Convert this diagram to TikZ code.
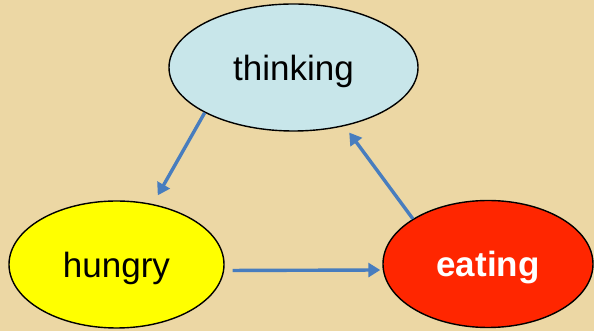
\documentclass[tikz,border=0pt]{standalone}
\usepackage{fontspec}
\setmainfont{Liberation Sans}
\usetikzlibrary{shapes.geometric,arrows.meta}
\definecolor{parch}{RGB}{236,215,164}
\definecolor{thinkfill}{RGB}{200,230,234}
\definecolor{hungfill}{RGB}{255,255,0}
\definecolor{eatfill}{RGB}{255,38,0}
\definecolor{arrowblue}{RGB}{72,125,190}
\tikzset{
  state/.style={ellipse, draw=black, line width=1.4pt, inner sep=0pt,
    font=\fontsize{35}{42}\selectfont, minimum height=127pt,
    text height=26pt, text depth=0pt},
  arr/.style={draw=arrowblue, line width=3.4pt,
    -{Triangle[length=12pt,width=14pt]}}
}
\begin{document}
\begin{tikzpicture}[x=1pt,y=1pt]
\fill[parch] (0,0) rectangle (594,331);
\useasboundingbox (0,0) rectangle (594,331);
\node[state, fill=thinkfill, minimum width=249pt] (thinking) at (293.5,263.5) {thinking};
\node[state, fill=hungfill, minimum width=215pt] (hungry) at (116.5,66.5) {hungry};
\node[state, fill=eatfill, minimum width=210pt, text=white, font=\fontsize{35}{42}\selectfont\bfseries] (eating) at (488,67) {eating};
\draw[arr, shorten >=10pt] (thinking.207) -- (hungry.59);
\draw[arr, shorten <=8pt, shorten >=2pt] ([yshift=-6pt]hungry.east) -- ([yshift=-6pt]eating.west);
\draw[arr, shorten >=8pt] (eating.149) -- (thinking.-49);
\end{tikzpicture}
\end{document}
